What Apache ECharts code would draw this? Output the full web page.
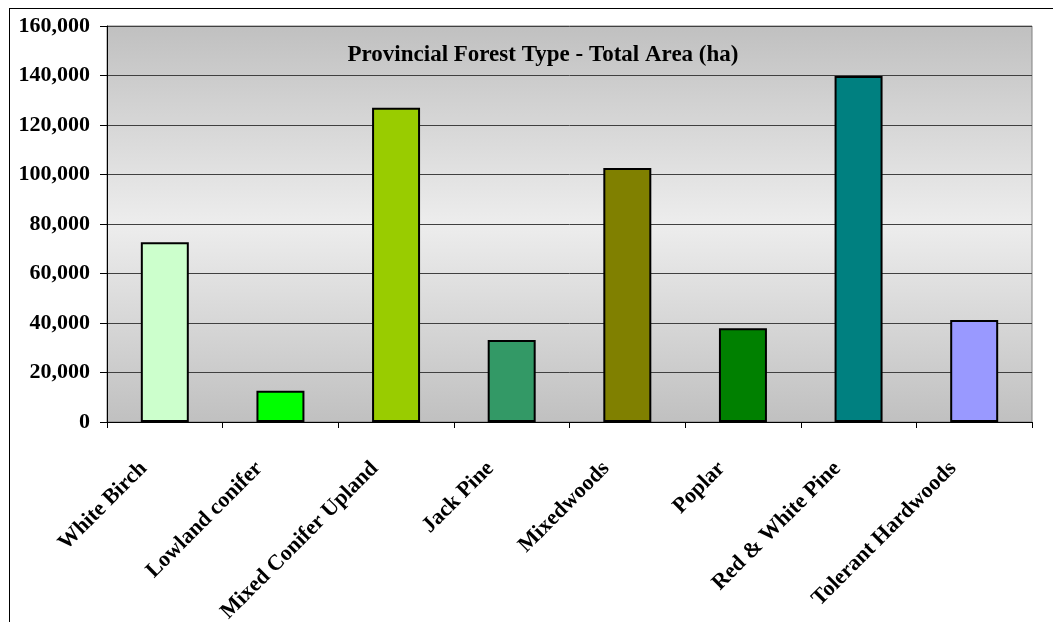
<!DOCTYPE html>
<html>
<head>
<meta charset="utf-8">
<script src="https://cdn.jsdelivr.net/npm/echarts@6/dist/echarts.min.js"></script>
<style>
  html, body { margin: 0; padding: 0; background: #fff; }
  #chart { width: 1053px; height: 622px; }
</style>
</head>
<body>
<div id="chart"></div>
<script>
// forest types and total area (ha)
const categories = ["White Birch", "Lowland conifer", "Mixed Conifer Upland", "Jack Pine",
  "Mixedwoods", "Poplar", "Red & White Pine", "Tolerant Hardwoods"];
const areaValues = [72600, 12600, 127000, 33100, 102600, 37900, 139800, 41200];
const barColors = ["#ccffcc", "#00ff00", "#99cc00", "#339966", "#808000", "#008000", "#008080", "#9999ff"];
const yTicks = [0, 20000, 40000, 60000, 80000, 100000, 120000, 140000, 160000];

const serif = "'Liberation Serif', 'Times New Roman', serif";

let myChart = echarts.init(document.getElementById("chart"));
myChart.setOption({
  animation: false,
  title: {
    text: "Provincial Forest Type - Total Area (ha)",
    left: 538,
    top: 39,
    textAlign: "center",
    textStyle: { fontFamily: serif, fontWeight: "bold", fontSize: 23, color: "#000" },
  },
  graphic: [
    { type: "line", shape: { x1: 9, y1: 8.5, x2: 1053, y2: 8.5 }, style: { stroke: "#000", lineWidth: 1 } },
    { type: "line", shape: { x1: 9.5, y1: 8, x2: 9.5, y2: 622 }, style: { stroke: "#000", lineWidth: 1 } },
  ],
  grid: {
    left: 107,
    top: 26,
    right: 21,
    bottom: 200,
    outerBoundsMode: "none",
    containLabel: false,
    show: true,
    borderColor: "#808080",
    borderWidth: 1,
    backgroundColor: {
      type: "linear", x: 0, y: 0, x2: 0, y2: 1,
      colorStops: [
        { offset: 0, color: "#c0c0c0" },
        { offset: 0.5, color: "#ededed" },
        { offset: 1, color: "#c0c0c0" },
      ],
    },
  },
  xAxis: {
    type: "category",
    data: categories,
    axisLine: { lineStyle: { color: "#000", width: 1 } },
    axisTick: { show: true, length: 6, alignWithLabel: false, lineStyle: { color: "#000" } },
    axisLabel: {
      interval: 0,
      rotate: 45,
      margin: 22,
      padding: [0, 30, 0, 0],
      fontFamily: serif,
      fontWeight: "bold",
      fontSize: 22,
      color: "#000",
    },
  },
  yAxis: {
    type: "value",
    min: yTicks[0],
    max: yTicks[yTicks.length - 1],
    interval: 20000,
    axisLine: { show: true, lineStyle: { color: "#000", width: 1 } },
    axisTick: { show: true, length: 7, lineStyle: { color: "#000" } },
    splitLine: { lineStyle: { color: "#404040", width: 1 } },
    axisLabel: {
      margin: 17,
      fontFamily: serif,
      fontWeight: "bold",
      fontSize: 22,
      color: "#000",
      formatter: (v) => v.toLocaleString("en-US"),
    },
  },
  series: [
    {
      type: "bar",
      data: areaValues.map((v, i) => ({ value: v, itemStyle: { color: barColors[i] } })),
      barWidth: "41.5%",
      itemStyle: { borderColor: "#000", borderWidth: 2 },
    },
  ],
});
</script>
</body>
</html>
